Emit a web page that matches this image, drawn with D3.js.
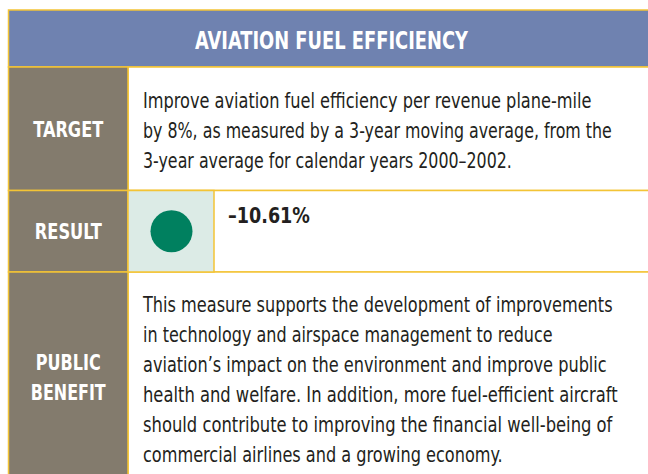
<!DOCTYPE html>
<html>
<head>
<meta charset="utf-8">
<script src="https://cdn.jsdelivr.net/npm/d3@7"></script>
<style>
  body { margin: 0; background: #fff; }
  svg { display: block; }
</style>
</head>
<body>
<div id="chart"></div>
<script>
// table content
var title = "AVIATION FUEL EFFICIENCY";
var rowLabels = [["TARGET"], ["RESULT"], ["PUBLIC", "BENEFIT"]];
var targetLines = [
    "Improve aviation fuel efficiency per revenue plane-mile",
    "by 8%, as measured by a 3-year moving average, from the",
    "3-year average for calendar years 2000\u20132002."
];
var resultValue = "\u201310.61%";
var resultStatus = "met";
var benefitLines = [
    "This measure supports the development of improvements",
    "in technology and airspace management to reduce",
    "aviation\u2019s impact on the environment and improve public",
    "health and welfare. In addition, more fuel-efficient aircraft",
    "should contribute to improving the financial well-being of",
    "commercial airlines and a growing economy."
];

var width = 648, height = 474;
var font = "'Liberation Sans Narrow', 'DejaVu Sans Condensed', sans-serif";
var gold = "#f3c436", gray = "#837b6d", blue = "#6f82b0", ink = "#231f20";

// layout: row edges (header, target, result, benefit)
var rowEdges = [10, 67, 190.5, 272, 490];
var colX = [8.5, 128, 214, 660];
var lineStep = 30;

// text widths; the fallback font is wider, so each line is squeezed
var targetW = [449, 469, 369];
var benefitW = [470, 410, 464, 475, 470, 360];
var labelW = {TARGET: 70, RESULT: 67, PUBLIC: 65, BENEFIT: 75};

var svg = d3.select("#chart").append("svg")
    .attr("width", width)
    .attr("height", height);

// squeeze a text horizontally to the wanted width, anchored at (x, y)
function fit(sel, x, y, w) {
    sel.each(function(d, i) {
        var n = this.getComputedTextLength();
        var sx = Math.min(1, w(d, i) / n);
        d3.select(this)
            .attr("x", 0).attr("y", 0)
            .attr("transform", `translate(${x(d, i)},${y(d, i)}) scale(${sx},1)`);
    });
}

// header band
svg.append("rect")
    .attr("x", colX[0]).attr("y", rowEdges[0])
    .attr("width", colX[3] - colX[0]).attr("height", rowEdges[1] - rowEdges[0])
    .attr("fill", blue).attr("stroke", gold).attr("stroke-width", 1.5);

svg.append("text")
    .attr("text-anchor", "middle")
    .attr("font-family", font).attr("font-weight", "bold")
    .attr("font-size", 24).attr("fill", "#fff")
    .text(title)
    .call(fit, () => 331.5, () => 49, () => 273);

// body rows
var rows = svg.selectAll("g.row")
    .data(rowLabels)
    .enter().append("g")
    .attr("class", "row");

rows.append("rect")
    .attr("x", colX[1]).attr("y", (d, i) => rowEdges[i + 1])
    .attr("width", colX[3] - colX[1])
    .attr("height", (d, i) => rowEdges[i + 2] - rowEdges[i + 1])
    .attr("fill", "#fff").attr("stroke", gold).attr("stroke-width", 1.5);

rows.append("rect")
    .attr("x", colX[0]).attr("y", (d, i) => rowEdges[i + 1])
    .attr("width", colX[1] - colX[0])
    .attr("height", (d, i) => rowEdges[i + 2] - rowEdges[i + 1])
    .attr("fill", gray).attr("stroke", gold).attr("stroke-width", 1.5);

// row labels, centred in the gray column
rows.each(function(lines, i) {
    var mid = (rowEdges[i + 1] + rowEdges[i + 2]) / 2;
    if (i == 2) mid = 377;
    var y0 = mid + 8 - (lines.length - 1) * lineStep / 2;
    d3.select(this).selectAll("text.lab")
        .data(lines)
        .enter().append("text")
        .attr("class", "lab")
        .attr("text-anchor", "middle")
        .attr("font-family", font).attr("font-weight", "bold")
        .attr("font-size", 22).attr("fill", "#fff")
        .text(d => d)
        .call(fit, () => (colX[0] + colX[1]) / 2, (d, j) => y0 + j * lineStep, d => labelW[d]);
});

// target text
svg.selectAll("text.target")
    .data(targetLines)
    .enter().append("text")
    .attr("class", "target")
    .attr("font-family", font).attr("font-size", 20.5).attr("fill", ink)
    .text(d => d)
    .call(fit, () => 143, (d, i) => 108 + i * lineStep, (d, i) => targetW[i]);

// result: status cell with dot, and value
svg.append("rect")
    .attr("x", colX[1]).attr("y", rowEdges[2])
    .attr("width", colX[2] - colX[1]).attr("height", rowEdges[3] - rowEdges[2])
    .attr("fill", "#dcebe6").attr("stroke", gold).attr("stroke-width", 1.5);

svg.append("circle")
    .attr("cx", (colX[1] + colX[2]) / 2 + 0.5)
    .attr("cy", (rowEdges[2] + rowEdges[3]) / 2)
    .attr("r", 21)
    .attr("fill", resultStatus == "met" ? "#00805f" : "#c8102e");

svg.append("text")
    .attr("font-family", font).attr("font-weight", "bold")
    .attr("font-size", 21).attr("fill", ink)
    .text(resultValue)
    .call(fit, () => 228, () => 223, () => 82);

// public benefit text
svg.selectAll("text.benefit")
    .data(benefitLines)
    .enter().append("text")
    .attr("class", "benefit")
    .attr("font-family", font).attr("font-size", 20.5).attr("fill", ink)
    .text(d => d)
    .call(fit, () => 143, (d, i) => 312 + i * lineStep, (d, i) => benefitW[i]);
</script>
</body>
</html>
